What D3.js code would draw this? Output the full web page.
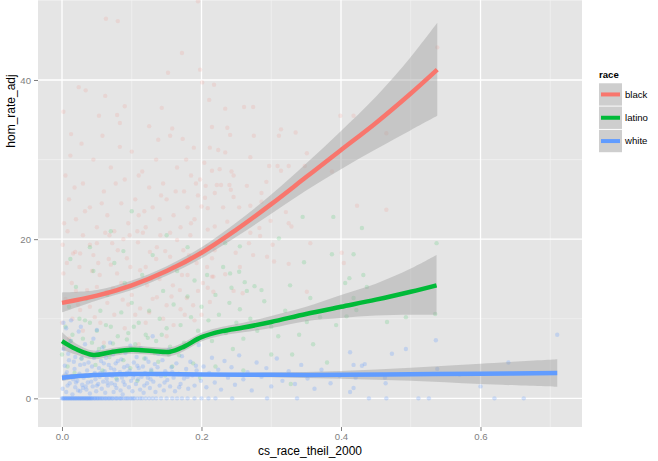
<!DOCTYPE html>
<html>
<head>
<meta charset="utf-8">
<script src="https://cdn.jsdelivr.net/npm/d3@7"></script>
<style>
  body { margin: 0; background: #fff; }
  text { font-family: "Liberation Sans", Arial, sans-serif; }
</style>
</head>
<body>
<div id="chart"></div>
<script>
// categories + colours (ggplot default hue)
var races = ["black", "latino", "white"];
var raceColors = ["#F8766D", "#00BA38", "#619CFF"];

var xTicks = [0, 0.2, 0.4, 0.6];
var xMinor = [0.1, 0.3, 0.5, 0.7];
var yTicks = [0, 20, 40];
var yMinor = [10, 30, 50];

// loess fits: [x, fit, lower, upper]
var blackSmooth = [
  [0, 12.0, 10.8, 13.3], [0.05, 12.9, 12.3, 13.6], [0.1, 14.2, 13.6, 14.8],
  [0.15, 16.0, 15.4, 16.6], [0.2, 18.3, 17.6, 19.0], [0.25, 21.2, 20.3, 22.1],
  [0.3, 24.4, 23.2, 25.6], [0.35, 27.8, 26.1, 29.5], [0.4, 31.2, 28.8, 33.6],
  [0.45, 34.6, 31.3, 37.9], [0.5, 38.3, 33.7, 42.9], [0.538, 41.3, 35.5, 47.2]
];
var latinoSmooth = [
  [0, 7.2, 6.1, 8.3], [0.02, 6.2, 5.5, 6.9], [0.045, 5.45, 4.9, 6.0],
  [0.07, 5.8, 5.3, 6.3], [0.1, 6.1, 5.6, 6.6], [0.13, 5.95, 5.45, 6.45],
  [0.155, 5.85, 5.3, 6.4], [0.175, 6.5, 5.95, 7.05], [0.2, 7.7, 7.15, 8.25],
  [0.23, 8.45, 7.9, 9.0], [0.26, 8.9, 8.3, 9.5], [0.3, 9.6, 8.85, 10.35],
  [0.35, 10.6, 9.7, 11.5], [0.4, 11.5, 10.1, 13.0], [0.45, 12.4, 10.4, 14.4],
  [0.5, 13.4, 10.5, 16.3], [0.537, 14.2, 10.5, 18.0]
];
var whiteSmooth = [
  [0, 2.6, 2.2, 3.0], [0.03, 2.85, 2.6, 3.1], [0.07, 3.0, 2.8, 3.2],
  [0.1, 3.05, 2.85, 3.25], [0.15, 3.05, 2.85, 3.25], [0.2, 3.0, 2.8, 3.2],
  [0.3, 2.95, 2.65, 3.25], [0.4, 2.95, 2.45, 3.45], [0.5, 3.03, 2.2, 3.85],
  [0.6, 3.1, 1.8, 4.35], [0.71, 3.18, 1.45, 4.9]
];

// scatter points [cs_race_theil_2000, hom_rate_adj]
var blackPts = [
  [0.063,47.7],[0.080,47.4],[0.024,39.1],[0.034,38.7],[0.172,43.4],[0.152,40.9],[0.198,41.3],[0.201,39.7],
  [0.090,36.7],[0.053,35.5],[0.079,35.6],[0.083,34.6],[0.013,33.2],[0.125,34.2],[0.143,36.5],[0.158,33.9],
  [0.155,33.0],[0.173,32.6],[0.189,31.5],[0.083,31.6],[0.211,37.5],[0.218,39.4],[0.215,34.1],[0.195,49.9],
  [0.234,36.4],[0.261,36.6],[0.274,36.6],[0.237,34.0],[0.241,33.1],[0.275,33.0],[0.314,33.8],[0.335,33.4],
  [0.311,33.0],[0.399,35.5],[0.418,35.5],[0.465,33.3],[0.212,31.5],[0.224,31.2],[0.234,30.9],[0.351,30.8],
  [0.270,30.3],[0.204,29.6],[0.297,29.2],[0.309,29.2],[0.314,28.6],[0.325,29.2],[0.348,29.2],[0.387,28.5],
  [0.215,28.6],[0.226,28.8],[0.243,28.5],[0.246,28.0],[0.293,27.2],[0.206,26.7],[0.222,26.8],[0.228,26.8],
  [0.240,26.8],[0.242,26.2],[0.265,26.7],[0.219,25.8],[0.246,25.3],[0.286,25.8],[0.205,25.2],[0.200,24.1],
  [0.209,23.9],[0.231,24.0],[0.254,24.0],[0.270,24.2],[0.286,24.7],[0.321,23.4],[0.325,22.0],[0.329,21.6],
  [0.423,24.2],[0.465,23.7],[0.299,22.3],[0.283,21.4],[0.270,20.8],[0.237,22.2],[0.219,21.6],[0.209,21.2],
  [0.284,20.4],[0.268,19.5],[0.302,19.3],[0.356,19.5],[0.401,18.3],[0.208,19.1],[0.219,18.6],[0.249,18.3],
  [0.274,18.0],[0.294,17.8],[0.304,17.2],[0.325,16.9],[0.404,17.0],[0.234,15.6],[0.255,16.5],[0.215,17.6],
  [0.208,16.5],[0.215,15.3],[0.202,14.5],[0.259,13.2],[0.351,13.4],[0.246,13.5],[0.217,13.4],[0.538,44.1],
  [0.001,19.3],[0.016,18.2],[0.019,18.4],[0.026,18.2],[0.007,17.0],[0.002,15.7],[0.014,14.5],[0.040,19.3],
  [0.045,18.0],[0.052,17.0],[0.062,20.8],[0.072,19.5],[0.080,18.6],[0.093,17.6],[0.097,20.5],[0.109,19.6],
  [0.116,20.8],[0.126,18.4],[0.136,19.0],[0.141,20.5],[0.155,17.8],[0.165,19.9],[0.174,18.6],[0.184,20.5],
  [0.193,17.0],[0.054,15.5],[0.079,15.7],[0.112,16.1],[0.036,13.6],[0.064,13.4],[0.122,14.2],[0.159,14.2],
  [0.169,13.6],[0.179,12.6],[0.136,12.7],[0.087,12.4],[0.026,11.1],[0.112,11.3],[0.150,11.7],[0.188,11.7],
  [0.212,12.1],[0.209,13.9],[0.217,15.3],
  [0.005,28.0],[0.010,25.0],[0.020,22.5],[0.030,27.0],[0.040,24.0],[0.045,30.0],[0.050,21.5],[0.060,26.0],
  [0.065,23.0],[0.070,29.0],[0.075,21.0],[0.085,24.5],[0.090,27.5],[0.095,22.0],[0.100,31.0],[0.105,25.0],
  [0.110,23.0],[0.115,28.5],[0.120,21.5],[0.125,26.5],[0.130,24.0],[0.135,30.0],[0.140,22.5],[0.145,27.0],
  [0.150,25.0],[0.160,23.0],[0.165,29.0],[0.170,21.5],[0.175,26.0],[0.180,24.0],[0.185,28.0],[0.190,22.5],
  [0.195,25.5],[0.003,22.0],[0.012,30.5],[0.028,32.0],[0.058,33.0],[0.068,20.5],[0.108,21.0],[0.138,32.5],
  [0.178,30.0],[0.198,27.5],[0.002,36.0],[0.062,38.0],[0.110,28.0],[0.155,20.8],[0.185,22.0],[0.030,20.5],
  [0.000,9.5],[0.005,12.5],[0.015,10.0],[0.020,13.5],[0.030,8.5],[0.040,11.5],[0.050,14.0],[0.055,9.5],
  [0.065,12.0],[0.075,10.5],[0.085,14.5],[0.090,8.8],[0.100,13.0],[0.105,10.5],[0.120,9.5],[0.130,12.5],
  [0.140,15.0],[0.145,10.0],[0.160,9.2],[0.170,11.2],[0.180,15.5],[0.190,9.8],[0.195,13.5],[0.010,7.5],
  [0.060,7.0],[0.110,6.8],[0.150,7.8],[0.200,10.5],[0.025,16.5],[0.070,16.8],[0.120,16.5],[0.135,17.5],
  [0.050,19.5],[0.160,16.5],
  [0.008,21.0],[0.018,26.5],[0.033,23.5],[0.043,16.0],[0.057,24.5],[0.067,17.5],[0.077,27.0],[0.088,20.0],
  [0.098,16.5],[0.118,23.5],[0.128,15.0],[0.142,25.5],[0.148,18.5],[0.163,26.0],[0.172,15.5],[0.182,18.0],
  [0.192,27.0],[0.023,11.8],[0.047,10.2],[0.073,13.8],[0.095,11.8],[0.125,10.8],[0.157,12.8],[0.176,10.5]
];

var latinoPts = [
  [0.387,18.1],[0.418,18.1],[0.347,17.1],[0.412,15.1],[0.406,14.5],[0.356,12.6],[0.418,12.6],[0.422,11.1],
  [0.408,10.3],[0.437,14.0],[0.466,9.6],[0.493,10.2],[0.537,19.5],[0.535,10.6],[0.393,9.2],[0.351,9.6],
  [0.345,22.8],[0.389,22.8],[0.430,21.4],[0.311,20.1],[0.327,14.2],[0.262,14.6],[0.276,14.1],[0.231,16.5],
  [0.241,15.7],[0.254,15.9],[0.208,15.5],[0.234,19.5],[0.255,19.1],[0.432,15.5],[0.243,13.9],[0.286,13.6],
  [0.328,1.8],
  [0.005,9.0],[0.010,11.5],[0.015,8.0],[0.020,14.0],[0.025,10.0],[0.030,7.5],[0.035,12.5],[0.040,9.5],
  [0.045,16.0],[0.050,8.5],[0.055,11.0],[0.060,6.5],[0.065,13.0],[0.070,9.0],[0.075,17.0],[0.080,7.8],
  [0.085,10.8],[0.090,14.5],[0.095,8.2],[0.100,12.0],[0.105,6.8],[0.110,9.5],[0.115,15.5],[0.120,8.0],
  [0.125,11.0],[0.130,18.0],[0.135,7.2],[0.140,10.0],[0.145,13.5],[0.150,8.8],[0.155,6.5],[0.160,11.8],
  [0.165,16.0],[0.170,9.2],[0.175,7.0],[0.180,12.8],[0.185,10.2],[0.190,14.8],[0.195,8.5],[0.200,11.5],
  [0.210,9.8],[0.215,7.2],[0.220,13.0],[0.225,10.5],[0.235,8.2],[0.240,12.0],[0.245,6.2],[0.250,9.5],
  [0.255,11.2],[0.260,7.5],[0.265,13.5],[0.270,10.0],[0.280,8.5],[0.290,12.2],[0.300,9.0],[0.310,7.8],
  [0.320,11.0],[0.330,5.5],[0.340,8.0],[0.360,6.8],[0.370,10.2],[0.380,4.5],
  [0.000,5.5],[0.008,4.0],[0.018,3.2],[0.028,5.0],[0.038,2.8],[0.048,4.2],[0.058,3.5],[0.068,5.2],
  [0.078,2.5],[0.088,4.8],[0.098,3.8],[0.108,2.2],[0.118,5.0],[0.128,3.4],[0.138,4.6],[0.148,2.9],
  [0.158,4.0],[0.168,5.4],[0.178,3.1],[0.188,4.4],[0.198,2.6],[0.040,19.0],[0.070,21.0],[0.100,23.5],
  [0.150,20.5],[0.012,17.5],[0.088,18.5],[0.180,19.0],[0.220,4.0],[0.260,3.5],[0.300,5.5],
  [0.003,6.8],[0.013,7.2],[0.023,6.0],[0.033,9.8],[0.043,7.0],[0.053,6.2],[0.063,9.2],[0.073,6.9],
  [0.083,5.8],[0.093,7.4],[0.103,9.0],[0.113,6.0],[0.123,7.6],[0.133,5.7],[0.143,8.0],[0.153,5.5]
];

var whitePts = [
  [0,0],[0.002,0],[0.004,0],[0.005,0],[0.006,0],[0.008,0],[0.010,0],[0.011,0],[0.013,0],[0.014,0],
  [0.016,0],[0.018,0],[0.020,0],[0.021,0],[0.023,0],[0.025,0],[0.027,0],[0.028,0],[0.030,0],[0.032,0],
  [0.034,0],[0.036,0],[0.038,0],[0.040,0],[0.042,0],[0.044,0],[0.046,0],[0.048,0],[0.050,0],[0.052,0],
  [0.055,0],[0.057,0],[0.060,0],[0.062,0],[0.065,0],[0.068,0],[0.070,0],[0.073,0],[0.076,0],[0.079,0],
  [0.082,0],[0.085,0],[0.088,0],[0.091,0],[0.095,0],[0.098,0],[0.100,0],[0.104,0],[0.108,0],[0.112,0],
  [0.115,0],[0.120,0],[0.125,0],[0.130,0],[0.135,0],[0.142,0],[0.150,0],[0.158,0],[0.165,0],[0.172,0],
  [0.180,0],[0.190,0],[0.200,0],[0.210,0],[0.220,0],[0.244,0],[0.294,0],[0.337,0],[0.440,0],[0.465,0],
  [0.511,0],[0.526,0],[0.620,0],[0.662,0],
  [0.001,0],[0.003,0],[0.007,0],[0.009,0],[0.012,0],[0.015,0],[0.017,0],[0.019,0],[0.022,0],[0.024,0],
  [0.026,0],[0.029,0],[0.031,0],[0.033,0],[0.035,0],[0.037,0],[0.039,0],[0.041,0],[0.043,0],[0.047,0],
  [0.051,0],[0.054,0],[0.058,0],[0.063,0],[0.067,0],[0.072,0],[0.078,0],[0.084,0],[0.093,0],[0.102,0],
  [0.001,1.2],[0.003,2.5],[0.004,4.1],[0.006,0.8],[0.007,3.3],[0.009,5.6],[0.011,1.9],[0.012,7.2],
  [0.014,2.8],[0.015,0.5],[0.017,4.6],[0.018,3.7],[0.019,1.4],[0.021,6.1],[0.022,2.2],[0.024,8.4],
  [0.025,3.1],[0.026,0.9],[0.028,5.0],[0.029,1.7],[0.031,2.6],[0.032,4.3],[0.033,6.8],[0.035,1.1],
  [0.036,3.5],[0.037,2.0],[0.039,5.4],[0.040,0.6],[0.041,2.9],[0.043,4.0],[0.044,1.5],[0.045,7.5],
  [0.047,3.2],[0.048,2.4],[0.049,0.9],[0.051,5.8],[0.052,1.8],[0.053,3.8],[0.054,2.7],[0.056,4.7],
  [0.057,1.2],[0.058,6.4],[0.059,2.1],[0.061,3.4],[0.062,0.7],[0.063,5.1],[0.064,2.5],[0.066,1.6],
  [0.067,4.2],[0.068,3.0],[0.069,7.0],[0.071,1.9],[0.072,2.8],[0.073,5.5],[0.074,0.8],[0.075,3.6],
  [0.077,4.4],[0.078,1.3],[0.079,2.3],[0.081,6.0],[0.083,3.3],[0.084,1.0],[0.085,4.9],[0.086,2.6],
  [0.087,0.5],[0.089,3.9],[0.090,1.7],[0.091,5.7],[0.092,2.9],[0.094,4.1],[0.096,1.4],[0.097,3.5],
  [0.098,6.6],[0.099,2.2],[0.101,0.9],[0.103,4.5],[0.104,3.0],[0.106,1.8],[0.107,5.2],[0.109,2.4],
  [0.110,3.8],[0.112,1.1],[0.113,6.3],[0.114,2.7],[0.116,4.0],[0.117,0.7],[0.119,3.2],[0.120,5.0],
  [0.122,1.9],[0.123,2.6],[0.124,4.6],[0.126,1.3],[0.128,3.6],[0.130,7.8],[0.131,2.1],[0.133,4.3],
  [0.134,0.8],[0.136,3.0],[0.138,5.6],[0.140,1.6],[0.142,2.8],[0.144,4.8],[0.146,1.0],[0.148,3.4],
  [0.151,2.3],[0.153,6.1],[0.155,1.5],[0.157,3.9],[0.160,2.6],[0.162,0.9],[0.164,4.4],[0.167,3.1],
  [0.170,1.8],[0.172,5.3],[0.175,2.5],[0.178,3.7],[0.181,1.2],[0.184,4.6],[0.187,2.9],[0.190,1.6],
  [0.193,3.5],[0.196,6.7],[0.199,2.2],[0.203,4.0],[0.207,1.4],[0.211,3.2],[0.215,5.1],[0.219,2.0],
  [0.224,3.6],[0.228,1.1],[0.233,4.7],[0.238,2.6],[0.243,3.9],[0.248,1.7],[0.254,5.4],[0.260,2.4],
  [0.266,3.3],[0.272,1.0],[0.279,4.5],[0.286,2.7],[0.293,3.8],[0.300,1.5],[0.308,5.0],[0.316,2.2],
  [0.325,3.4],[0.334,1.8],[0.343,4.2],[0.352,2.5],[0.362,1.2],[0.372,3.6],[0.385,1.9],[0.398,2.8],
  [0.002,9.5],[0.006,8.8],[0.013,9.8],[0.027,9.0],[0.050,8.6],[0.020,2.0],[0.034,1.5],[0.046,3.0],
  [0.002,6.2],[0.005,3.0],[0.008,1.6],[0.010,4.8],[0.016,2.4],[0.019,5.2],[0.023,1.0],[0.026,4.2],
  [0.030,1.3],[0.034,2.9],[0.038,4.5],[0.042,2.1],[0.046,5.1],[0.050,1.6],[0.055,3.2],[0.060,4.4],
  [0.065,2.0],[0.070,3.8],[0.076,1.7],[0.080,4.7],[0.088,2.1],[0.093,3.2],[0.102,2.6],[0.108,4.1],
  [0.118,1.6],[0.127,2.4],[0.137,3.9],[0.147,2.0],[0.158,3.3],[0.168,1.4],[0.180,2.7],[0.192,4.1],
  [0.413,5.8],[0.473,5.6],[0.493,6.2],[0.536,7.3],[0.418,4.2],[0.434,4.3],[0.430,4.1],[0.421,2.6],
  [0.463,2.6],[0.464,1.9],[0.418,1.3],[0.413,0.8],[0.538,3.7],[0.570,3.0],[0.600,1.5],[0.640,4.5],
  [0.710,8.0]
];

var ptsByRace = [blackPts, latinoPts, whitePts];
var smoothByRace = [blackSmooth, latinoSmooth, whiteSmooth];
var ptAlpha = [0.14, 0.15, 0.26];

var W = 658, H = 461;
var panel = {left: 38, right: 582, top: 0, bottom: 427};

var svg = d3.select("#chart").append("svg")
    .attr("width", W)
    .attr("height", H);

var x = d3.scaleLinear()
    .domain([-0.0344, 0.7455])
    .range([panel.left, panel.right]);
var y = d3.scaleLinear()
    .domain([-3.6, 50.05])
    .range([panel.bottom, panel.top]);

svg.append("clipPath").attr("id", "clip")
  .append("rect")
    .attr("x", panel.left).attr("y", panel.top)
    .attr("width", panel.right - panel.left)
    .attr("height", panel.bottom - panel.top);

// panel background
svg.append("rect")
    .attr("x", panel.left).attr("y", panel.top)
    .attr("width", panel.right - panel.left)
    .attr("height", panel.bottom - panel.top)
    .attr("fill", "#E5E5E5");

var grid = svg.append("g").attr("clip-path", "url(#clip)");
// minor grid
grid.selectAll(".vminor").data(xMinor).enter().append("line")
    .attr("x1", d => x(d)).attr("x2", d => x(d))
    .attr("y1", panel.top).attr("y2", panel.bottom)
    .attr("stroke", "#F2F2F2").attr("stroke-width", 0.7);
grid.selectAll(".hminor").data(yMinor).enter().append("line")
    .attr("y1", d => y(d)).attr("y2", d => y(d))
    .attr("x1", panel.left).attr("x2", panel.right)
    .attr("stroke", "#F2F2F2").attr("stroke-width", 0.7);
// major grid
grid.selectAll(".vmajor").data(xTicks).enter().append("line")
    .attr("x1", d => x(d)).attr("x2", d => x(d))
    .attr("y1", panel.top).attr("y2", panel.bottom)
    .attr("stroke", "#FFFFFF").attr("stroke-width", 1.3);
grid.selectAll(".hmajor").data(yTicks).enter().append("line")
    .attr("y1", d => y(d)).attr("y2", d => y(d))
    .attr("x1", panel.left).attr("x2", panel.right)
    .attr("stroke", "#FFFFFF").attr("stroke-width", 1.3);

var plot = svg.append("g").attr("clip-path", "url(#clip)");

// points
races.forEach(function(r, i) {
  plot.append("g").selectAll("circle")
    .data(ptsByRace[i])
    .enter().append("circle")
      .attr("cx", d => x(d[0]))
      .attr("cy", d => y(d[1]))
      .attr("r", 2.2)
      .attr("fill", raceColors[i])
      .attr("fill-opacity", ptAlpha[i]);
});

// smooths: ribbon then line, per group
var band = d3.area()
    .x(d => x(d[0]))
    .y0(d => y(d[2]))
    .y1(d => y(d[3]))
    .curve(d3.curveCatmullRom);
var fit = d3.line()
    .x(d => x(d[0]))
    .y(d => y(d[1]))
    .curve(d3.curveCatmullRom);

races.forEach(function(r, i) {
  plot.append("path")
    .datum(smoothByRace[i])
    .attr("d", band)
    .attr("fill", "#999999")
    .attr("fill-opacity", 0.4);
  plot.append("path")
    .datum(smoothByRace[i])
    .attr("d", fit)
    .attr("fill", "none")
    .attr("stroke", raceColors[i])
    .attr("stroke-width", 4.5);
});

// axes
var xAxis = svg.append("g")
    .attr("transform", "translate(0," + panel.bottom + ")")
    .call(d3.axisBottom(x).tickValues(xTicks).tickFormat(d3.format(".1f")).tickSize(4).tickPadding(2));
var yAxis = svg.append("g")
    .attr("transform", "translate(" + panel.left + ",0)")
    .call(d3.axisLeft(y).tickValues(yTicks).tickSize(4).tickPadding(3));
[xAxis, yAxis].forEach(function(a) {
  a.select(".domain").remove();
  a.selectAll("line").attr("stroke", "#7F7F7F");
  a.selectAll("text")
    .attr("fill", "#7F7F7F")
    .attr("font-size", 9.6)
    .style("font-family", "'Liberation Sans', Arial, sans-serif");
});

svg.append("text")
    .attr("x", (panel.left + panel.right) / 2)
    .attr("y", 455)
    .attr("text-anchor", "middle")
    .attr("font-size", 12)
    .attr("fill", "#000")
    .text("cs_race_theil_2000");

svg.append("text")
    .attr("transform", "translate(15,111) rotate(-90)")
    .attr("text-anchor", "middle")
    .attr("font-size", 12)
    .attr("fill", "#000")
    .text("hom_rate_adj");

// legend
var legend = svg.append("g").attr("transform", "translate(599,0)");
legend.append("text")
    .attr("x", 0).attr("y", 78)
    .attr("font-size", 9.6)
    .attr("font-weight", "bold")
    .text("race");
var keyH = 23.3;
races.forEach(function(r, i) {
  var top = 83.3 + i * keyH;
  legend.append("rect")
    .attr("x", 0).attr("y", top)
    .attr("width", 23).attr("height", keyH - 1)
    .attr("fill", "#F2F2F2");
  legend.append("rect")
    .attr("x", 0).attr("y", top)
    .attr("width", 23).attr("height", keyH - 1)
    .attr("fill", "#999999").attr("fill-opacity", 0.4);
  legend.append("line")
    .attr("x1", 2).attr("x2", 21)
    .attr("y1", top + (keyH - 1) / 2).attr("y2", top + (keyH - 1) / 2)
    .attr("stroke", raceColors[i])
    .attr("stroke-width", 4);
  legend.append("text")
    .attr("x", 26).attr("y", top + (keyH - 1) / 2)
    .attr("dy", "0.35em")
    .attr("font-size", 9.6)
    .text(r);
});
</script>
</body>
</html>
